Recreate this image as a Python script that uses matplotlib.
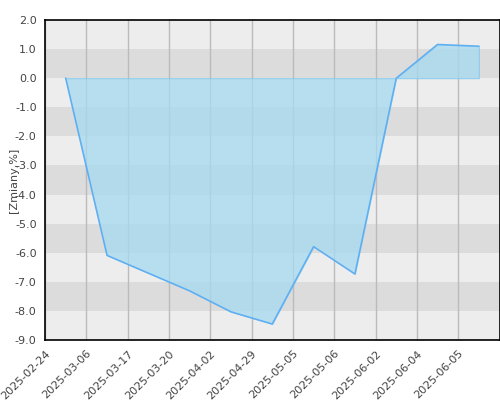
import matplotlib
matplotlib.use("Agg")
import matplotlib.pyplot as plt
import numpy as np

dates = ["2025-02-24", "2025-03-06", "2025-03-17", "2025-03-20", "2025-04-02",
         "2025-04-29", "2025-05-05", "2025-05-06", "2025-06-02", "2025-06-04", "2025-06-05"]
values = [0.0, -6.09, -6.70, -7.31, -8.03, -8.45, -5.79, -6.73, 0.0, 1.16, 1.10]

fig = plt.figure(figsize=(5, 4), dpi=100)
ax = fig.add_axes([0.09, 0.15, 0.909, 0.80])

ymin, ymax = -9, 2
for k in range(ymin, ymax):
    col = "#dcdcdc" if (k % 2 == 0) else "#ededed"
    ax.axhspan(k, k + 1, color=col, zorder=0, lw=0)

x = np.arange(len(values)) + 0.5
ax.grid(axis="x", color="#bbbbbb", lw=1, zorder=1)
ax.fill_between(x, values, 0, color="#a6daf0", alpha=0.75, zorder=2,
                edgecolor="#7cc6ee", lw=0.8)
ax.plot(x, values, color="#5eaef2", lw=1.1, zorder=3)

ax.set_xlim(0, len(values))
ax.set_ylim(ymin, ymax)
ax.set_xticks(np.arange(len(dates)))
ax.set_xticklabels(dates, rotation=45, ha="right", rotation_mode="anchor",
                   fontsize=8, color="#444444")
ax.set_yticks(np.arange(ymin, ymax + 1))
ax.set_yticklabels([f"{v:.1f}" for v in np.arange(ymin, ymax + 1)],
                   fontsize=8, color="#444444")
ax.tick_params(length=0, pad=6)
for s in ax.spines.values():
    s.set_color("black")
    s.set_linewidth(1.2)
    s.set_zorder(5)
ax.set_ylabel("[Zmiany,%]", fontsize=8, color="#444444")
ax.yaxis.set_label_coords(-0.058, 0.5)

fig.savefig("out.png", dpi=100, facecolor="white")
